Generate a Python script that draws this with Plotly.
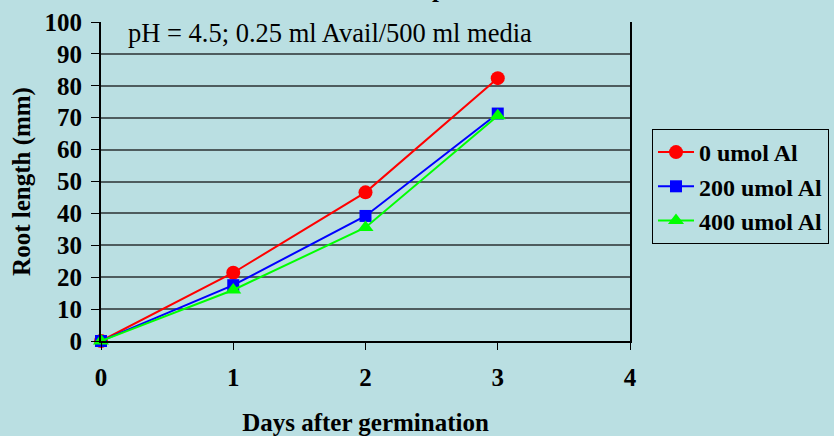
import plotly.graph_objects as go

days = [0, 1, 2, 3]
al0 = [0, 21.4, 46.6, 82.4]
al200 = [0, 17.5, 39.2, 71.3]
al400 = [0, 16.0, 35.6, 70.6]
series_names = ["0 umol Al", "200 umol Al", "400 umol Al"]
y_ticks = [0, 10, 20, 30, 40, 50, 60, 70, 80, 90, 100]
x_ticks = [0, 1, 2, 3, 4]

BG = "#BADFE2"
FONT = "Liberation Serif, Times New Roman, DejaVu Serif, serif"

fig = go.Figure()
fig.add_trace(go.Scatter(x=days, y=al0, name=series_names[0], mode="lines+markers",
                         line=dict(color="#FF0000", width=2),
                         marker=dict(symbol="circle", size=14, color="#FF0000"),
                         cliponaxis=False))
fig.add_trace(go.Scatter(x=days, y=al200, name=series_names[1], mode="lines+markers",
                         line=dict(color="#0000FF", width=2),
                         marker=dict(symbol="square", size=12, color="#0000FF"),
                         cliponaxis=False))
fig.add_trace(go.Scatter(x=days, y=al400, name=series_names[2], mode="lines+markers",
                         line=dict(color="#00FF00", width=2),
                         marker=dict(symbol="triangle-up", size=14, color="#00FF00"),
                         cliponaxis=False))

fig.update_layout(
    width=834, height=436,
    margin=dict(l=101, r=204, t=22, b=95, autoexpand=False),
    paper_bgcolor=BG, plot_bgcolor=BG,
    font=dict(family=FONT, color="black", size=24),
    showlegend=True,
    legend=dict(x=(652 - 101) / 529, y=(341 - 129) / 319, xanchor="left", yanchor="top",
                bgcolor=BG, bordercolor="black", borderwidth=1, itemwidth=36,
                font=dict(family=FONT, size=24, color="black", weight="bold")),
    xaxis=dict(range=[0, 4], tickvals=x_ticks, ticks="outside", ticklen=7,
               tickcolor="black", tickwidth=1, showgrid=False, zeroline=False,
               showline=True, linecolor="black", linewidth=2, automargin=False,
               ticklabelstandoff=6,
               tickfont=dict(family=FONT, size=25, weight="bold"),
               title=dict(text="Days after germination", standoff=30,
                          font=dict(family=FONT, size=25, weight="bold"))),
    yaxis=dict(range=[0, 100], tickvals=y_ticks, ticks="outside", ticklen=8,
               tickcolor="black", tickwidth=1, showgrid=True,
               gridcolor="#4E5C5E", gridwidth=2, zeroline=False,
               showline=True, linecolor="black", linewidth=2, mirror=True, automargin=False,
               ticklabelstandoff=4,
               tickfont=dict(family=FONT, size=25, weight="bold"),
               title=dict(text="Root length (mm)", standoff=7,
                          font=dict(family=FONT, size=25, weight="bold"))),
)

fig.add_annotation(text="pH = 4.5; 0.25 ml Avail/500 ml media", xref="paper", yref="paper",
                   x=(330 - 101) / 529, y=(341 - 33) / 319, xanchor="center", yanchor="middle",
                   showarrow=False, font=dict(family=FONT, size=26.5, color="black"))
fig.add_annotation(text="p", xref="paper", yref="paper",
                   x=(439 - 101) / 529, y=(341 - 4) / 319, xanchor="center", yanchor="bottom",
                   showarrow=False, font=dict(family=FONT, size=25, color="black", weight="bold"))

fig.write_html("out.html")
